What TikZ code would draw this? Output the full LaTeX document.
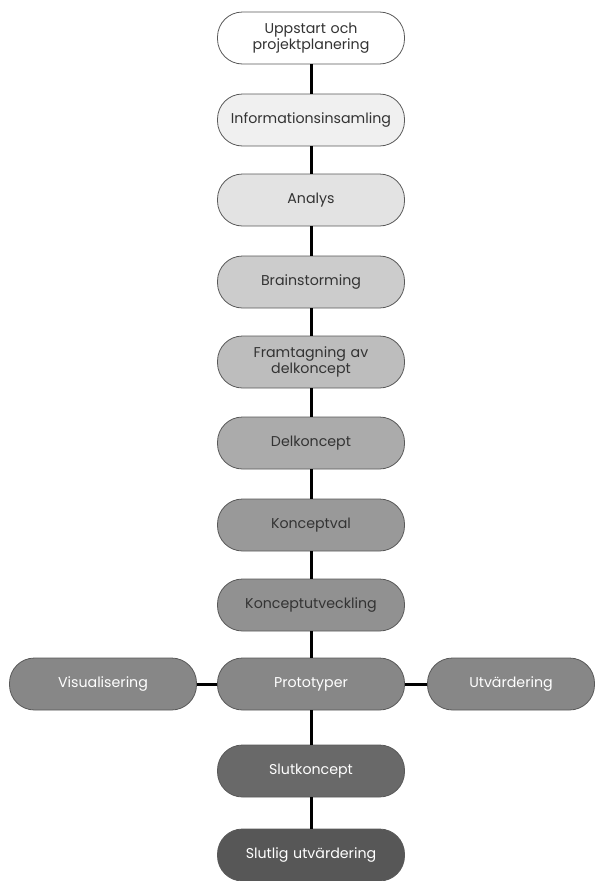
\documentclass[tikz,border=0pt]{standalone}
\usepackage{fontspec}
\setmainfont{Poppins}
\usepackage{tikz}

\begin{document}
\begin{tikzpicture}
	[x=1pt, y=-1pt,
	fas/.style ={rectangle, draw=black!65, line width=0.8pt, text width=180pt, align=center, rounded corners=25pt, minimum width=187pt, minimum height=52pt, inner sep=2pt, font=\fontsize{14.2}{15.5}\selectfont, text=black!80},
	ljus/.style ={fas, text=black!80},
	mork/.style ={fas, text=white},
	line/.style ={draw, line width=3pt, black}]
	\useasboundingbox (0,0) rectangle (602,881);
	\draw (311, 38) node[ljus, fill=white] (start) {Uppstart och\\projektplanering};
	\draw (311, 120) node[ljus, fill=black!6] (info) {Informationsinsamling};
	\draw (311, 200) node[ljus, fill=black!11] (analys) {Analys};
	\draw (311, 282) node[ljus, fill=black!20] (brain) {Brainstorming};
	\draw (311, 362) node[ljus, fill=black!26] (fram) {Framtagning av\\delkoncept};
	\draw (311, 443) node[ljus, fill=black!33] (del) {Delkoncept};
	\draw (311, 525) node[ljus, fill=black!40] (val) {Konceptval};
	\draw (311, 605) node[ljus, fill=black!43] (utv) {Konceptutveckling};
	\draw (311, 684) node[mork, fill=black!47] (proto) {Prototyper};
	\draw (103, 684) node[mork, fill=black!47] (visu) {Visualisering};
	\draw (511, 684) node[mork, fill=black!47, minimum width=167pt, text width=160pt] (utvard) {Utvärdering};
	\draw (311, 771) node[mork, fill=black!59] (slut) {Slutkoncept};
	\draw (311, 855) node[mork, fill=black!66] (slutlig) {Slutlig utvärdering};
	\draw[line] (start) -- (info);
	\draw[line] (info) -- (analys);
	\draw[line] (analys) -- (brain);
	\draw[line] (brain) -- (fram);
	\draw[line] (fram) -- (del);
	\draw[line] (del) -- (val);
	\draw[line] (val) -- (utv);
	\draw[line] (utv) -- (proto);
	\draw[line] (proto) -- (slut);
	\draw[line] (slut) -- (slutlig);
	\draw[line] (visu) -- (proto);
	\draw[line] (proto) -- (utvard);
\end{tikzpicture}
\end{document}
